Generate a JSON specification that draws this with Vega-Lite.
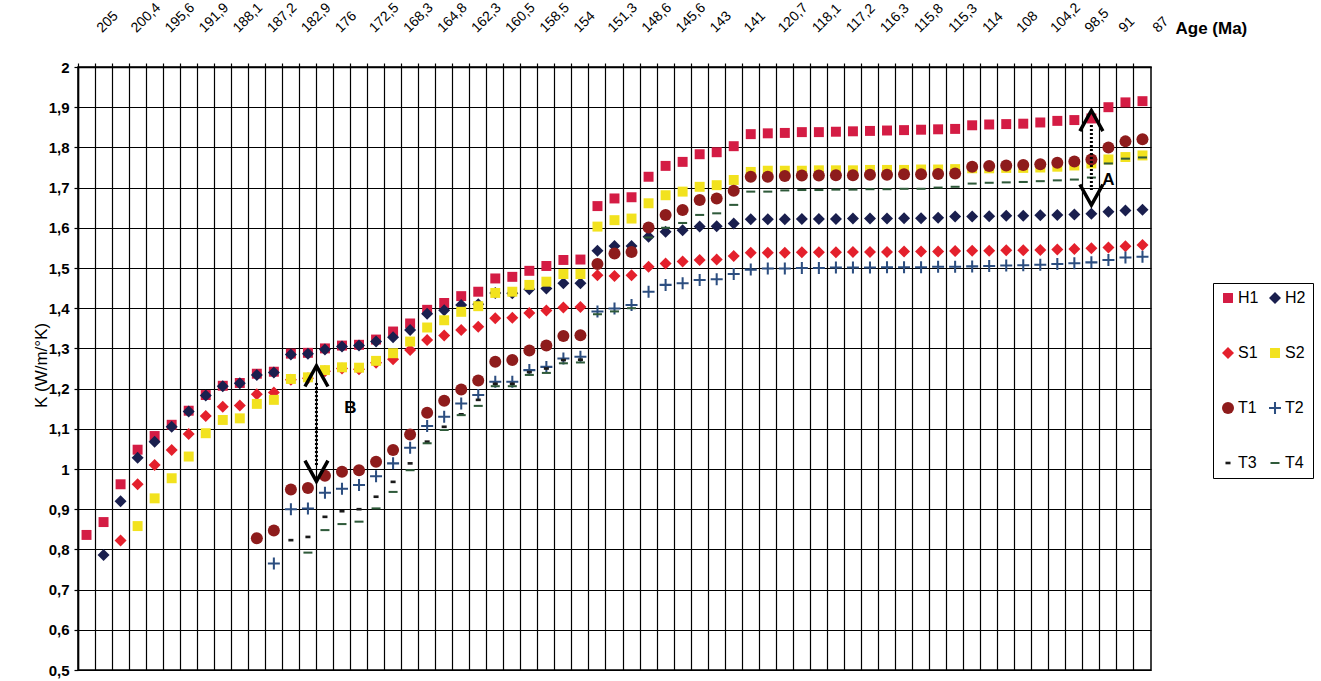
{
  "$schema": "https://vega.github.io/schema/vega-lite/v6.json",
  "width": 1073,
  "height": 603,
  "autosize": {"type": "none"},
  "padding": {"left": 78, "top": 67, "right": 170, "bottom": 11},
  "background": "white",
  "config": {
    "font": "Liberation Sans",
    "view": {"stroke": "black", "strokeWidth": 1.5}
  },
  "datasets": {
    "pts": [
      {"i":1,"s":"H1","k":0.836},{"i":2,"s":"H1","k":0.868},{"i":3,"s":"H1","k":0.962},{"i":4,"s":"H1","k":1.048},{"i":5,"s":"H1","k":1.082},{"i":6,"s":"H1","k":1.11},{"i":7,"s":"H1","k":1.145},{"i":8,"s":"H1","k":1.184},{"i":9,"s":"H1","k":1.207},{"i":10,"s":"H1","k":1.214},{"i":11,"s":"H1","k":1.237},{"i":12,"s":"H1","k":1.242},{"i":13,"s":"H1","k":1.287},{"i":14,"s":"H1","k":1.289},{"i":15,"s":"H1","k":1.3},{"i":16,"s":"H1","k":1.307},{"i":17,"s":"H1","k":1.309},{"i":18,"s":"H1","k":1.322},{"i":19,"s":"H1","k":1.342},{"i":20,"s":"H1","k":1.362},{"i":21,"s":"H1","k":1.396},{"i":22,"s":"H1","k":1.413},{"i":23,"s":"H1","k":1.43},{"i":24,"s":"H1","k":1.441},{"i":25,"s":"H1","k":1.474},{"i":26,"s":"H1","k":1.478},{"i":27,"s":"H1","k":1.493},{"i":28,"s":"H1","k":1.505},{"i":29,"s":"H1","k":1.52},{"i":30,"s":"H1","k":1.521},{"i":31,"s":"H1","k":1.654},{"i":32,"s":"H1","k":1.673},{"i":33,"s":"H1","k":1.676},{"i":34,"s":"H1","k":1.727},{"i":35,"s":"H1","k":1.754},{"i":36,"s":"H1","k":1.764},{"i":37,"s":"H1","k":1.783},{"i":38,"s":"H1","k":1.788},{"i":39,"s":"H1","k":1.803},{"i":40,"s":"H1","k":1.833},{"i":41,"s":"H1","k":1.835},{"i":42,"s":"H1","k":1.836},{"i":43,"s":"H1","k":1.838},{"i":44,"s":"H1","k":1.838},{"i":45,"s":"H1","k":1.839},{"i":46,"s":"H1","k":1.84},{"i":47,"s":"H1","k":1.841},{"i":48,"s":"H1","k":1.842},{"i":49,"s":"H1","k":1.843},{"i":50,"s":"H1","k":1.844},{"i":51,"s":"H1","k":1.845},{"i":52,"s":"H1","k":1.846},{"i":53,"s":"H1","k":1.855},{"i":54,"s":"H1","k":1.857},{"i":55,"s":"H1","k":1.858},{"i":56,"s":"H1","k":1.859},{"i":57,"s":"H1","k":1.862},{"i":58,"s":"H1","k":1.866},{"i":59,"s":"H1","k":1.868},{"i":60,"s":"H1","k":1.872},{"i":61,"s":"H1","k":1.9},{"i":62,"s":"H1","k":1.912},{"i":63,"s":"H1","k":1.915},
      {"i":2,"s":"H2","k":0.786},{"i":3,"s":"H2","k":0.92},{"i":4,"s":"H2","k":1.028},{"i":5,"s":"H2","k":1.068},{"i":6,"s":"H2","k":1.105},{"i":7,"s":"H2","k":1.143},{"i":8,"s":"H2","k":1.183},{"i":9,"s":"H2","k":1.206},{"i":10,"s":"H2","k":1.213},{"i":11,"s":"H2","k":1.234},{"i":12,"s":"H2","k":1.24},{"i":13,"s":"H2","k":1.285},{"i":14,"s":"H2","k":1.287},{"i":15,"s":"H2","k":1.297},{"i":16,"s":"H2","k":1.305},{"i":17,"s":"H2","k":1.307},{"i":18,"s":"H2","k":1.317},{"i":19,"s":"H2","k":1.328},{"i":20,"s":"H2","k":1.346},{"i":21,"s":"H2","k":1.386},{"i":22,"s":"H2","k":1.395},{"i":23,"s":"H2","k":1.408},{"i":24,"s":"H2","k":1.41},{"i":25,"s":"H2","k":1.438},{"i":26,"s":"H2","k":1.437},{"i":27,"s":"H2","k":1.447},{"i":28,"s":"H2","k":1.449},{"i":29,"s":"H2","k":1.462},{"i":30,"s":"H2","k":1.462},{"i":31,"s":"H2","k":1.543},{"i":32,"s":"H2","k":1.555},{"i":33,"s":"H2","k":1.555},{"i":34,"s":"H2","k":1.578},{"i":35,"s":"H2","k":1.59},{"i":36,"s":"H2","k":1.594},{"i":37,"s":"H2","k":1.603},{"i":38,"s":"H2","k":1.604},{"i":39,"s":"H2","k":1.611},{"i":40,"s":"H2","k":1.621},{"i":41,"s":"H2","k":1.621},{"i":42,"s":"H2","k":1.621},{"i":43,"s":"H2","k":1.622},{"i":44,"s":"H2","k":1.622},{"i":45,"s":"H2","k":1.622},{"i":46,"s":"H2","k":1.623},{"i":47,"s":"H2","k":1.623},{"i":48,"s":"H2","k":1.623},{"i":49,"s":"H2","k":1.624},{"i":50,"s":"H2","k":1.624},{"i":51,"s":"H2","k":1.625},{"i":52,"s":"H2","k":1.628},{"i":53,"s":"H2","k":1.628},{"i":54,"s":"H2","k":1.629},{"i":55,"s":"H2","k":1.63},{"i":56,"s":"H2","k":1.63},{"i":57,"s":"H2","k":1.631},{"i":58,"s":"H2","k":1.632},{"i":59,"s":"H2","k":1.633},{"i":60,"s":"H2","k":1.635},{"i":61,"s":"H2","k":1.64},{"i":62,"s":"H2","k":1.643},{"i":63,"s":"H2","k":1.645},
      {"i":3,"s":"S1","k":0.822},{"i":4,"s":"S1","k":0.962},{"i":5,"s":"S1","k":1.01},{"i":6,"s":"S1","k":1.047},{"i":7,"s":"S1","k":1.087},{"i":8,"s":"S1","k":1.132},{"i":9,"s":"S1","k":1.155},{"i":10,"s":"S1","k":1.158},{"i":11,"s":"S1","k":1.186},{"i":12,"s":"S1","k":1.19},{"i":13,"s":"S1","k":1.222},{"i":14,"s":"S1","k":1.226},{"i":15,"s":"S1","k":1.243},{"i":16,"s":"S1","k":1.25},{"i":17,"s":"S1","k":1.248},{"i":18,"s":"S1","k":1.264},{"i":19,"s":"S1","k":1.273},{"i":20,"s":"S1","k":1.296},{"i":21,"s":"S1","k":1.321},{"i":22,"s":"S1","k":1.332},{"i":23,"s":"S1","k":1.346},{"i":24,"s":"S1","k":1.354},{"i":25,"s":"S1","k":1.375},{"i":26,"s":"S1","k":1.376},{"i":27,"s":"S1","k":1.388},{"i":28,"s":"S1","k":1.394},{"i":29,"s":"S1","k":1.402},{"i":30,"s":"S1","k":1.403},{"i":31,"s":"S1","k":1.482},{"i":32,"s":"S1","k":1.48},{"i":33,"s":"S1","k":1.482},{"i":34,"s":"S1","k":1.503},{"i":35,"s":"S1","k":1.511},{"i":36,"s":"S1","k":1.516},{"i":37,"s":"S1","k":1.52},{"i":38,"s":"S1","k":1.521},{"i":39,"s":"S1","k":1.53},{"i":40,"s":"S1","k":1.538},{"i":41,"s":"S1","k":1.538},{"i":42,"s":"S1","k":1.538},{"i":43,"s":"S1","k":1.539},{"i":44,"s":"S1","k":1.539},{"i":45,"s":"S1","k":1.539},{"i":46,"s":"S1","k":1.54},{"i":47,"s":"S1","k":1.54},{"i":48,"s":"S1","k":1.54},{"i":49,"s":"S1","k":1.541},{"i":50,"s":"S1","k":1.541},{"i":51,"s":"S1","k":1.541},{"i":52,"s":"S1","k":1.542},{"i":53,"s":"S1","k":1.543},{"i":54,"s":"S1","k":1.543},{"i":55,"s":"S1","k":1.544},{"i":56,"s":"S1","k":1.544},{"i":57,"s":"S1","k":1.545},{"i":58,"s":"S1","k":1.546},{"i":59,"s":"S1","k":1.547},{"i":60,"s":"S1","k":1.549},{"i":61,"s":"S1","k":1.551},{"i":62,"s":"S1","k":1.554},{"i":63,"s":"S1","k":1.557},
      {"i":4,"s":"S2","k":0.858},{"i":5,"s":"S2","k":0.927},{"i":6,"s":"S2","k":0.977},{"i":7,"s":"S2","k":1.031},{"i":8,"s":"S2","k":1.089},{"i":9,"s":"S2","k":1.122},{"i":10,"s":"S2","k":1.126},{"i":11,"s":"S2","k":1.162},{"i":12,"s":"S2","k":1.172},{"i":13,"s":"S2","k":1.224},{"i":14,"s":"S2","k":1.228},{"i":15,"s":"S2","k":1.246},{"i":16,"s":"S2","k":1.253},{"i":17,"s":"S2","k":1.252},{"i":18,"s":"S2","k":1.269},{"i":19,"s":"S2","k":1.288},{"i":20,"s":"S2","k":1.317},{"i":21,"s":"S2","k":1.352},{"i":22,"s":"S2","k":1.37},{"i":23,"s":"S2","k":1.391},{"i":24,"s":"S2","k":1.405},{"i":25,"s":"S2","k":1.438},{"i":26,"s":"S2","k":1.441},{"i":27,"s":"S2","k":1.458},{"i":28,"s":"S2","k":1.466},{"i":29,"s":"S2","k":1.485},{"i":30,"s":"S2","k":1.485},{"i":31,"s":"S2","k":1.603},{"i":32,"s":"S2","k":1.619},{"i":33,"s":"S2","k":1.623},{"i":34,"s":"S2","k":1.661},{"i":35,"s":"S2","k":1.681},{"i":36,"s":"S2","k":1.69},{"i":37,"s":"S2","k":1.702},{"i":38,"s":"S2","k":1.706},{"i":39,"s":"S2","k":1.719},{"i":40,"s":"S2","k":1.739},{"i":41,"s":"S2","k":1.742},{"i":42,"s":"S2","k":1.742},{"i":43,"s":"S2","k":1.742},{"i":44,"s":"S2","k":1.743},{"i":45,"s":"S2","k":1.743},{"i":46,"s":"S2","k":1.743},{"i":47,"s":"S2","k":1.744},{"i":48,"s":"S2","k":1.744},{"i":49,"s":"S2","k":1.744},{"i":50,"s":"S2","k":1.745},{"i":51,"s":"S2","k":1.745},{"i":52,"s":"S2","k":1.746},{"i":53,"s":"S2","k":1.748},{"i":54,"s":"S2","k":1.748},{"i":55,"s":"S2","k":1.749},{"i":56,"s":"S2","k":1.749},{"i":57,"s":"S2","k":1.75},{"i":58,"s":"S2","k":1.752},{"i":59,"s":"S2","k":1.755},{"i":60,"s":"S2","k":1.76},{"i":61,"s":"S2","k":1.77},{"i":62,"s":"S2","k":1.776},{"i":63,"s":"S2","k":1.78},
      {"i":11,"s":"T1","k":0.828},{"i":12,"s":"T1","k":0.847},{"i":13,"s":"T1","k":0.949},{"i":14,"s":"T1","k":0.953},{"i":15,"s":"T1","k":0.983},{"i":16,"s":"T1","k":0.993},{"i":17,"s":"T1","k":0.997},{"i":18,"s":"T1","k":1.018},{"i":19,"s":"T1","k":1.047},{"i":20,"s":"T1","k":1.086},{"i":21,"s":"T1","k":1.14},{"i":22,"s":"T1","k":1.17},{"i":23,"s":"T1","k":1.198},{"i":24,"s":"T1","k":1.22},{"i":25,"s":"T1","k":1.267},{"i":26,"s":"T1","k":1.271},{"i":27,"s":"T1","k":1.295},{"i":28,"s":"T1","k":1.307},{"i":29,"s":"T1","k":1.331},{"i":30,"s":"T1","k":1.333},{"i":31,"s":"T1","k":1.51},{"i":32,"s":"T1","k":1.536},{"i":33,"s":"T1","k":1.54},{"i":34,"s":"T1","k":1.601},{"i":35,"s":"T1","k":1.632},{"i":36,"s":"T1","k":1.644},{"i":37,"s":"T1","k":1.669},{"i":38,"s":"T1","k":1.673},{"i":39,"s":"T1","k":1.692},{"i":40,"s":"T1","k":1.727},{"i":41,"s":"T1","k":1.727},{"i":42,"s":"T1","k":1.729},{"i":43,"s":"T1","k":1.73},{"i":44,"s":"T1","k":1.73},{"i":45,"s":"T1","k":1.731},{"i":46,"s":"T1","k":1.731},{"i":47,"s":"T1","k":1.732},{"i":48,"s":"T1","k":1.732},{"i":49,"s":"T1","k":1.733},{"i":50,"s":"T1","k":1.733},{"i":51,"s":"T1","k":1.734},{"i":52,"s":"T1","k":1.735},{"i":53,"s":"T1","k":1.752},{"i":54,"s":"T1","k":1.754},{"i":55,"s":"T1","k":1.755},{"i":56,"s":"T1","k":1.756},{"i":57,"s":"T1","k":1.758},{"i":58,"s":"T1","k":1.762},{"i":59,"s":"T1","k":1.765},{"i":60,"s":"T1","k":1.77},{"i":61,"s":"T1","k":1.8},{"i":62,"s":"T1","k":1.815},{"i":63,"s":"T1","k":1.82},
      {"i":12,"s":"T2","k":0.765},{"i":13,"s":"T2","k":0.9},{"i":14,"s":"T2","k":0.902},{"i":15,"s":"T2","k":0.941},{"i":16,"s":"T2","k":0.951},{"i":17,"s":"T2","k":0.96},{"i":18,"s":"T2","k":0.982},{"i":19,"s":"T2","k":1.014},{"i":20,"s":"T2","k":1.053},{"i":21,"s":"T2","k":1.107},{"i":22,"s":"T2","k":1.13},{"i":23,"s":"T2","k":1.163},{"i":24,"s":"T2","k":1.184},{"i":25,"s":"T2","k":1.217},{"i":26,"s":"T2","k":1.217},{"i":27,"s":"T2","k":1.246},{"i":28,"s":"T2","k":1.254},{"i":29,"s":"T2","k":1.275},{"i":30,"s":"T2","k":1.279},{"i":31,"s":"T2","k":1.392},{"i":32,"s":"T2","k":1.399},{"i":33,"s":"T2","k":1.408},{"i":34,"s":"T2","k":1.441},{"i":35,"s":"T2","k":1.458},{"i":36,"s":"T2","k":1.462},{"i":37,"s":"T2","k":1.47},{"i":38,"s":"T2","k":1.472},{"i":39,"s":"T2","k":1.485},{"i":40,"s":"T2","k":1.496},{"i":41,"s":"T2","k":1.499},{"i":42,"s":"T2","k":1.499},{"i":43,"s":"T2","k":1.5},{"i":44,"s":"T2","k":1.5},{"i":45,"s":"T2","k":1.501},{"i":46,"s":"T2","k":1.501},{"i":47,"s":"T2","k":1.501},{"i":48,"s":"T2","k":1.502},{"i":49,"s":"T2","k":1.502},{"i":50,"s":"T2","k":1.502},{"i":51,"s":"T2","k":1.503},{"i":52,"s":"T2","k":1.503},{"i":53,"s":"T2","k":1.504},{"i":54,"s":"T2","k":1.505},{"i":55,"s":"T2","k":1.506},{"i":56,"s":"T2","k":1.507},{"i":57,"s":"T2","k":1.508},{"i":58,"s":"T2","k":1.51},{"i":59,"s":"T2","k":1.512},{"i":60,"s":"T2","k":1.514},{"i":61,"s":"T2","k":1.52},{"i":62,"s":"T2","k":1.526},{"i":63,"s":"T2","k":1.528},
      {"i":13,"s":"T3","k":0.823},{"i":14,"s":"T3","k":0.831},{"i":15,"s":"T3","k":0.881},{"i":16,"s":"T3","k":0.895},{"i":17,"s":"T3","k":0.9},{"i":18,"s":"T3","k":0.931},{"i":19,"s":"T3","k":0.968},{"i":20,"s":"T3","k":1.014},{"i":21,"s":"T3","k":1.068},{"i":22,"s":"T3","k":1.105},{"i":23,"s":"T3","k":1.136},{"i":24,"s":"T3","k":1.172},{"i":25,"s":"T3","k":1.212},{"i":26,"s":"T3","k":1.212},{"i":27,"s":"T3","k":1.241},{"i":28,"s":"T3","k":1.25},{"i":29,"s":"T3","k":1.271},{"i":30,"s":"T3","k":1.272},
      {"i":14,"s":"T4","k":0.792},{"i":15,"s":"T4","k":0.848},{"i":16,"s":"T4","k":0.863},{"i":17,"s":"T4","k":0.869},{"i":18,"s":"T4","k":0.902},{"i":19,"s":"T4","k":0.943},{"i":20,"s":"T4","k":0.997},{"i":21,"s":"T4","k":1.064},{"i":22,"s":"T4","k":1.097},{"i":23,"s":"T4","k":1.134},{"i":24,"s":"T4","k":1.157},{"i":25,"s":"T4","k":1.206},{"i":26,"s":"T4","k":1.206},{"i":27,"s":"T4","k":1.234},{"i":28,"s":"T4","k":1.239},{"i":29,"s":"T4","k":1.263},{"i":30,"s":"T4","k":1.265},{"i":31,"s":"T4","k":1.385},{"i":32,"s":"T4","k":1.392},{"i":33,"s":"T4","k":1.4},{"i":34,"s":"T4","k":1.576},{"i":35,"s":"T4","k":1.6},{"i":36,"s":"T4","k":1.612},{"i":37,"s":"T4","k":1.632},{"i":38,"s":"T4","k":1.636},{"i":39,"s":"T4","k":1.657},{"i":40,"s":"T4","k":1.69},{"i":41,"s":"T4","k":1.69},{"i":42,"s":"T4","k":1.693},{"i":43,"s":"T4","k":1.694},{"i":44,"s":"T4","k":1.694},{"i":45,"s":"T4","k":1.695},{"i":46,"s":"T4","k":1.695},{"i":47,"s":"T4","k":1.696},{"i":48,"s":"T4","k":1.696},{"i":49,"s":"T4","k":1.697},{"i":50,"s":"T4","k":1.697},{"i":51,"s":"T4","k":1.7},{"i":52,"s":"T4","k":1.702},{"i":53,"s":"T4","k":1.71},{"i":54,"s":"T4","k":1.712},{"i":55,"s":"T4","k":1.713},{"i":56,"s":"T4","k":1.714},{"i":57,"s":"T4","k":1.716},{"i":58,"s":"T4","k":1.718},{"i":59,"s":"T4","k":1.72},{"i":60,"s":"T4","k":1.725},{"i":61,"s":"T4","k":1.76},{"i":62,"s":"T4","k":1.772},{"i":63,"s":"T4","k":1.775}
    ]
  },
  "layer": [
    {
      "data": {"name": "pts"},
      "mark": {"type": "point", "filled": true, "size": 144, "opacity": 1, "strokeWidth": 0},
      "encoding": {
        "x": {
          "field": "i", "type": "ordinal",
          "scale": {"domain": [1,2,3,4,5,6,7,8,9,10,11,12,13,14,15,16,17,18,19,20,21,22,23,24,25,26,27,28,29,30,31,32,33,34,35,36,37,38,39,40,41,42,43,44,45,46,47,48,49,50,51,52,53,54,55,56,57,58,59,60,61,62,63], "paddingInner": 0, "paddingOuter": 0},
          "axis": {
            "orient": "top",
            "bandPosition": 0,
            "grid": true, "gridColor": "black", "gridWidth": 1.2, "gridOpacity": 1,
            "ticks": true, "tickSize": 4, "tickColor": "black", "tickWidth": 1.2,
            "domain": true, "domainColor": "black", "domainWidth": 1.5,
            "labelExpr": "datum.value % 2 == 1 ? ['205','200,4','195,6','191,9','188,1','187,2','182,9','176','172,5','168,3','164,8','162,3','160,5','158,5','154','151,3','148,6','145,6','143','141','120,7','118,1','117,2','116,3','115,8','115,3','114','108','104,2','98,5','91','87'][(datum.value - 1) / 2] : ''",
            "labelAngle": -45, "labelAlign": "left", "labelBaseline": "middle",
            "labelPadding": 33, "labelOffset": 13,
            "labelFontSize": 14, "labelColor": "black", "labelOverlap": false, "labelBound": false, "labelFlush": false,
            "title": "Age (Ma)", "titleFontSize": 17, "titleFontWeight": "bold", "titleColor": "black",
            "titleX": 1097, "titleY": -39, "titleAlign": "left", "titleBaseline": "middle", "titleAngle": 0
          }
        },
        "y": {
          "field": "k", "type": "quantitative",
          "scale": {"domain": [0.5, 2], "nice": false, "zero": false},
          "axis": {
            "values": [0.5,0.6,0.7,0.8,0.9,1,1.1,1.2,1.3,1.4,1.5,1.6,1.7,1.8,1.9,2],
            "format": ".1~f",
            "labelExpr": "replace(datum.label, '.', ',')",
            "grid": true, "gridColor": "black", "gridWidth": 1.2, "gridOpacity": 1,
            "ticks": true, "tickSize": 4, "tickColor": "black", "tickWidth": 1.2,
            "domain": true, "domainColor": "black", "domainWidth": 1.5,
            "labelFontSize": 15, "labelFontWeight": "bold", "labelColor": "black", "labelPadding": 5,
            "title": "K (W/m/°K)", "titleFontSize": 17, "titleFontWeight": "normal", "titleColor": "black",
            "titleX": -37, "titleY": 298, "titleAngle": -90, "titleAlign": "center", "titleBaseline": "middle"
          }
        },
        "color": {
          "field": "s", "type": "nominal",
          "scale": {"domain": ["H1","S1","T1","T3","H2","S2","T2","T4"], "range": ["#D41C44","#E4202C","#8E1C1C","#1A1A1A","#1A1F4E","#F2E21E","#2C4E80","#2F5A3A"]},
          "legend": {
            "title": null, "orient": "none", "legendX": 1135, "legendY": 216, "direction": "vertical",
            "columns": 2, "columnPadding": 8, "rowPadding": 39,
            "padding": 7, "strokeColor": "black",
            "labelFontSize": 16, "labelColor": "black", "labelOffset": 2,
            "symbolSize": 144, "symbolStrokeWidth": 0, "symbolOpacity": 1
          }
        },
        "shape": {
          "field": "s", "type": "nominal",
          "scale": {"domain": ["H1","S1","T1","T3","H2","S2","T2","T4"], "range": [
            "M-0.83,-0.83H0.83V0.83H-0.83Z",
            "diamond",
            "circle",
            "M-0.42,-0.22H0.42V0.22H-0.42Z",
            "diamond",
            "M-0.83,-0.83H0.83V0.83H-0.83Z",
            "M-1,-0.17H-0.17V-1H0.17V-0.17H1V0.17H0.17V1H-0.17V0.17H-1Z",
            "M-0.75,-0.17H0.75V0.17H-0.75Z"
          ]},
          "legend": {
            "title": null, "orient": "none", "legendX": 1135, "legendY": 216, "direction": "vertical",
            "columns": 2, "columnPadding": 8, "rowPadding": 39,
            "padding": 7, "strokeColor": "black",
            "labelFontSize": 16, "labelColor": "black", "labelOffset": 2,
            "symbolSize": 144, "symbolStrokeWidth": 0, "symbolOpacity": 1
          }
        }
      }
    },
    {
      "data": {"values": [{"i": 15, "k1": 1.214, "k2": 1.007}]},
      "mark": {"type": "rule", "strokeDash": [2, 2], "strokeWidth": 3, "color": "black"},
      "encoding": {
        "x": {"field": "i", "type": "ordinal", "bandPosition": 0},
        "y": {"field": "k1", "type": "quantitative"},
        "y2": {"field": "k2"}
      }
    },
    {
      "data": {"values": [{"i": 60, "k1": 1.856, "k2": 1.694}]},
      "mark": {"type": "rule", "strokeDash": [2, 2], "strokeWidth": 3, "color": "black"},
      "encoding": {
        "x": {"field": "i", "type": "ordinal", "bandPosition": 0.5},
        "y": {"field": "k1", "type": "quantitative"},
        "y2": {"field": "k2"}
      }
    },
    {
      "data": {"values": [{"i": 15, "k": 1.231}]},
      "mark": {"type": "point", "shape": "M-1,0.9L0,-0.9L1,0.9", "filled": false, "strokeWidth": 3.5, "color": "black", "size": 529, "opacity": 1},
      "encoding": {
        "x": {"field": "i", "type": "ordinal", "bandPosition": 0},
        "y": {"field": "k", "type": "quantitative"}
      }
    },
    {
      "data": {"values": [{"i": 15, "k": 0.995}]},
      "mark": {"type": "point", "shape": "M-1,-0.9L0,0.9L1,-0.9", "filled": false, "strokeWidth": 3.5, "color": "black", "size": 529, "opacity": 1},
      "encoding": {
        "x": {"field": "i", "type": "ordinal", "bandPosition": 0},
        "y": {"field": "k", "type": "quantitative"}
      }
    },
    {
      "data": {"values": [{"i": 60, "k": 1.866}]},
      "mark": {"type": "point", "shape": "M-1,0.9L0,-0.9L1,0.9", "filled": false, "strokeWidth": 3.5, "color": "black", "size": 529, "opacity": 1},
      "encoding": {
        "x": {"field": "i", "type": "ordinal", "bandPosition": 0.5},
        "y": {"field": "k", "type": "quantitative"}
      }
    },
    {
      "data": {"values": [{"i": 60, "k": 1.682}]},
      "mark": {"type": "point", "shape": "M-1,-0.9L0,0.9L1,-0.9", "filled": false, "strokeWidth": 3.5, "color": "black", "size": 529, "opacity": 1},
      "encoding": {
        "x": {"field": "i", "type": "ordinal", "bandPosition": 0.5},
        "y": {"field": "k", "type": "quantitative"}
      }
    },
    {
      "data": {"values": [{"i": 17, "k": 1.152, "t": "B"}]},
      "mark": {"type": "text", "fontSize": 17, "fontWeight": "bold", "color": "black", "align": "center", "baseline": "middle"},
      "encoding": {
        "x": {"field": "i", "type": "ordinal", "bandPosition": 0},
        "y": {"field": "k", "type": "quantitative"},
        "text": {"field": "t"}
      }
    },
    {
      "data": {"values": [{"i": 61, "k": 1.719, "t": "A"}]},
      "mark": {"type": "text", "fontSize": 17, "fontWeight": "bold", "color": "black", "align": "center", "baseline": "middle"},
      "encoding": {
        "x": {"field": "i", "type": "ordinal", "bandPosition": 0.5},
        "y": {"field": "k", "type": "quantitative"},
        "text": {"field": "t"}
      }
    }
  ]
}
